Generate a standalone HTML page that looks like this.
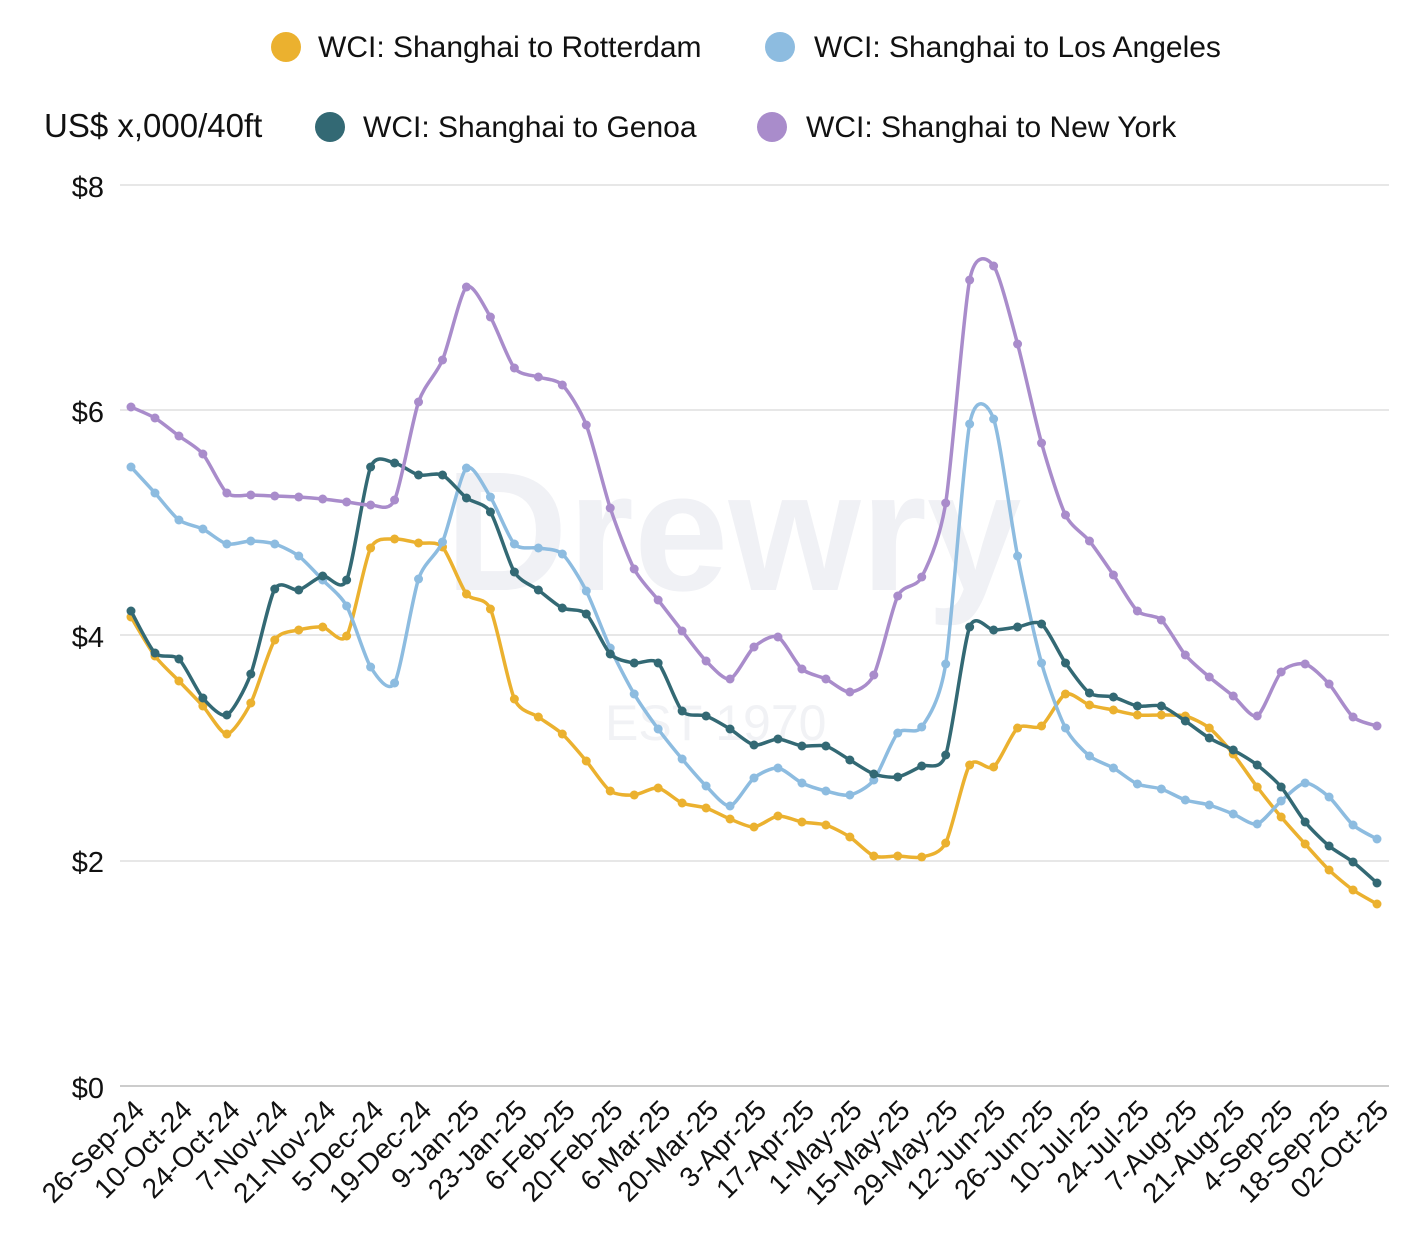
<!DOCTYPE html>
<html><head><meta charset="utf-8"><style>
body{margin:0;background:#fff;width:1416px;height:1248px;overflow:hidden}
svg text{font-family:"Liberation Sans",sans-serif;fill:#111}
</style></head><body>
<svg id="s" width="1416" height="1248" xmlns="http://www.w3.org/2000/svg">
<text x="605" y="740" font-size="50" style="fill:#f1f2f5">EST 1970</text>
<text x="445" y="590" font-size="170" font-weight="bold" style="fill:#f0f1f5">Drewry</text>
<g stroke="#cfcfcf" stroke-width="1">
<line x1="120" x2="1389" y1="185" y2="185"/><line x1="120" x2="1389" y1="410" y2="410"/>
<line x1="120" x2="1389" y1="635" y2="635"/><line x1="120" x2="1389" y1="861" y2="861"/>
<line x1="120" x2="1389" y1="1086" y2="1086" stroke="#999"/></g>
<g font-size="29" text-anchor="end">
<text x="104" y="197">$8</text><text x="104" y="422">$6</text><text x="104" y="647">$4</text><text x="104" y="872">$2</text><text x="104" y="1098">$0</text></g>
<text x="44" y="137" font-size="33">US$ x,000/40ft</text>
<circle cx="286" cy="47" r="15" fill="#EBB12F"/><text x="318" y="57" font-size="30">WCI: Shanghai to Rotterdam</text>
<circle cx="780" cy="47" r="15" fill="#8DBCE0"/><text x="814" y="57" font-size="30">WCI: Shanghai to Los Angeles</text>
<circle cx="330" cy="127" r="15" fill="#336974"/><text x="363" y="137" font-size="30">WCI: Shanghai to Genoa</text>
<circle cx="772" cy="127" r="15" fill="#A98CCB"/><text x="806" y="137" font-size="30">WCI: Shanghai to New York</text>
<g id="lab" font-size="28" text-anchor="end"></g>
<g id="ser"></g>
</svg>
<script>
const xs=[];for(let i=0;i<53;i++)xs.push(131+i*1246/52);
const S={
"#EBB12F":[617,656,681,706,734,703,640,630,627,636,548,539,543,547,594,609,699,717,734,761,791,795,788,803,808,819,827,816,822,825,837,856,856,857,843,765,767,728,726,694,705,710,715,715,716,728,754,787,817,844,870,890,904],
"#8DBCE0":[467,493,520,529,544,541,544,556,580,606,667,683,579,542,468,497,544,548,554,591,648,694,729,759,786,806,778,768,783,791,795,780,733,727,664,424,419,556,663,728,756,768,784,789,800,805,814,824,801,783,797,825,839],
"#336974":[611,653,659,698,715,674,589,590,576,580,467,463,475,475,498,512,572,590,608,614,654,663,663,711,716,729,745,739,746,746,760,774,777,766,755,627,630,627,624,663,693,697,706,706,721,738,750,765,787,822,846,862,883],
"#A98CCB":[407,418,436,454,493,495,496,497,499,502,505,500,402,360,287,317,368,377,385,425,508,569,600,631,661,679,647,637,669,679,692,675,596,577,503,280,266,344,443,515,541,575,611,620,655,677,696,716,672,664,684,717,726]};
let h="";
for(const c of ["#EBB12F","#8DBCE0","#336974","#A98CCB"]){const y=S[c];
let d=`M${xs[0]},${y[0]}`;const k=8;
for(let i=0;i<52;i++){const x0=xs[Math.max(i-1,0)],y0=y[Math.max(i-1,0)],x3=xs[Math.min(i+2,52)],y3=y[Math.min(i+2,52)];
d+=` C${xs[i]+(xs[i+1]-x0)/k},${y[i]+(y[i+1]-y0)/k} ${xs[i+1]-(x3-xs[i])/k},${y[i+1]-(y3-y[i])/k} ${xs[i+1]},${y[i+1]}`;}
h+=`<path d="${d}" fill="none" stroke="${c}" stroke-width="3.5"/>`;
for(let i=0;i<53;i++)h+=`<circle cx="${xs[i]}" cy="${y[i]}" r="4.5" fill="${c}"/>`;}
document.getElementById("ser").innerHTML=h;
const L=["26-Sep-24","10-Oct-24","24-Oct-24","7-Nov-24","21-Nov-24","5-Dec-24","19-Dec-24","9-Jan-25","23-Jan-25","6-Feb-25","20-Feb-25","6-Mar-25","20-Mar-25","3-Apr-25","17-Apr-25","1-May-25","15-May-25","29-May-25","12-Jun-25","26-Jun-25","10-Jul-25","24-Jul-25","7-Aug-25","21-Aug-25","4-Sep-25","18-Sep-25","02-Oct-25"];
let t="";const n=L.length;
for(let i=0;i<n;i++){const x=146+i*(1390-146)/(n-1);t+=`<text transform="translate(${x},1112) rotate(-45)">${L[i]}</text>`;}
document.getElementById("lab").innerHTML=t;
</script>
</body></html>
